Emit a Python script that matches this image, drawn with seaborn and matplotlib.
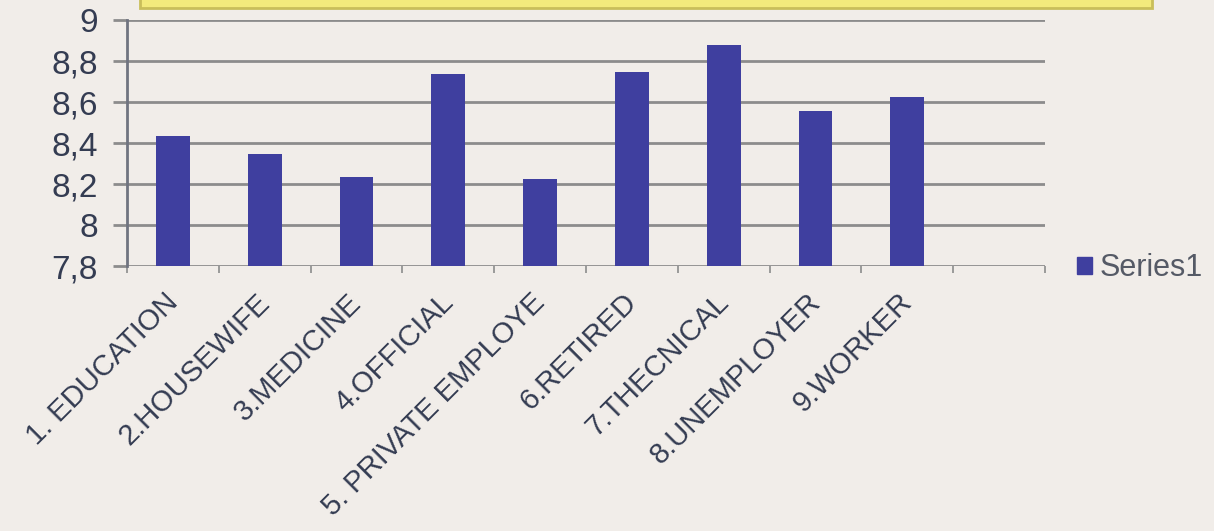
import numpy as np
import pandas as pd
import seaborn as sns
import matplotlib.pyplot as plt
from matplotlib.patches import Rectangle
from matplotlib.ticker import FixedLocator

# values
categories = ["1. EDUCATION", "2.HOUSEWIFE", "3.MEDICINE", "4.OFFICIAL",
              "5. PRIVATE EMPLOYE", "6.RETIRED", "7.THECNICAL",
              "8.UNEMPLOYER", "9.WORKER"]
values = [8.434, 8.346, 8.233, 8.737, 8.224, 8.746, 8.878, 8.556, 8.626]
y_ticks = [7.8, 8.0, 8.2, 8.4, 8.6, 8.8, 9.0]
y_labels = ["7,8", "8", "8,2", "8,4", "8,6", "8,8", "9"]
series_name = "Series1"

bg = "#F1EDE9"
bar_color = "#3F3F9F"
text_color = "#343C52"
grid_color = "#8C8C8C"

sns.set_theme(style="white")
plt.rcParams["font.family"] = ["Liberation Sans", "DejaVu Sans"]

df = pd.DataFrame({"category": categories, "value": values, "series": series_name})

fig = plt.figure(figsize=(12.14, 5.31), dpi=100, facecolor=bg)
ax = fig.add_axes([0.1046, 0.499, 0.7562, 0.463])
ax.set_facecolor(bg)

sns.barplot(data=df, x="category", y="value", hue="series", order=categories,
            palette=[bar_color], width=0.37, saturation=1, legend=False, ax=ax,
            zorder=3, linewidth=0)

n = len(categories)
ax.set_ylim(7.8, 9.0)
ax.set_xlim(-0.5, n + 0.5)  # one empty slot after the last bar, as in the original
ax.set_yticks(y_ticks)
ax.set_yticklabels(y_labels, fontsize=24, color=text_color)
ax.yaxis.grid(True, color=grid_color, linewidth=2, zorder=0)
ax.set_axisbelow(True)

# labels sit a hair left of the bar centre in the original
ax.set_xticks(np.arange(n) - 0.1)
ax.set_xticklabels(categories, rotation=45, ha="right", va="top",
                   rotation_mode="anchor", fontsize=21, color=text_color)
ax.tick_params(axis="x", which="major", length=0, pad=16)
ax.xaxis.set_minor_locator(FixedLocator(np.arange(n + 2) - 0.5))
ax.tick_params(axis="x", which="minor", bottom=True, length=5, width=1.2,
               color=grid_color, direction="out")
ax.tick_params(axis="y", left=True, length=10, width=2, color=grid_color,
               direction="out", pad=11)

for side in ["top", "right", "bottom"]:
    ax.spines[side].set_visible(False)
ax.spines["left"].set_color("#707480")
ax.spines["left"].set_linewidth(2)

ax.set_xlabel("")
ax.set_ylabel("")

# legend
handle = Rectangle((0, 0), 1, 1, color=bar_color)
fig.legend([handle], [series_name], loc="center left", bbox_to_anchor=(0.887, 0.495),
           frameon=False, fontsize=22, handlelength=0.5, handleheight=0.5,
           handletextpad=0.25, borderpad=0, borderaxespad=0, labelcolor="#555A66")

# yellow title box cut off at the top
fig.patches.append(Rectangle((0.1153, 0.985), 0.834, 0.05, transform=fig.transFigure,
                             facecolor="#F3EA7C", edgecolor="#C9BE5A", linewidth=2))

fig.savefig("out.png", dpi=100, facecolor=bg)
